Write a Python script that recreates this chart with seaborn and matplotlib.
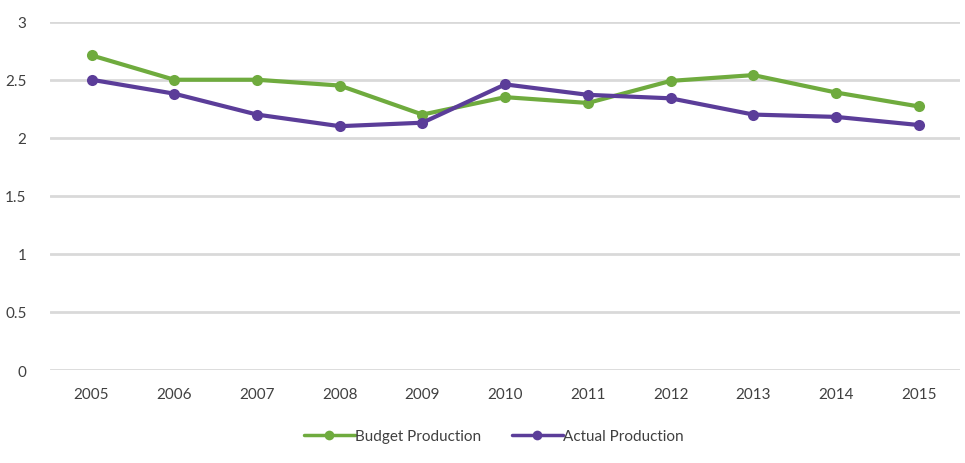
import matplotlib
matplotlib.use("Agg")
import matplotlib.pyplot as plt
import seaborn as sns
import pandas as pd

years = ["2005", "2006", "2007", "2008", "2009", "2010", "2011", "2012", "2013", "2014", "2015"]
budget = [2.71, 2.50, 2.50, 2.45, 2.20, 2.35, 2.30, 2.49, 2.54, 2.39, 2.27]
actual = [2.50, 2.38, 2.20, 2.10, 2.13, 2.46, 2.37, 2.34, 2.20, 2.18, 2.11]
series_names = ["Budget Production", "Actual Production"]
y_ticks = [0, 0.5, 1, 1.5, 2, 2.5, 3]
y_tick_labels = ["0", "0.5", "1", "1.5", "2", "2.5", "3"]

colors = {"Budget Production": "#6fab3e", "Actual Production": "#5b3d99"}

df = pd.DataFrame({
    "pos": list(range(len(years))) * 2,
    "value": budget + actual,
    "series": [series_names[0]] * len(years) + [series_names[1]] * len(years),
})

sns.set_style("white")
plt.rcParams["font.family"] = ["Lato", "DejaVu Sans"]

fig = plt.figure(figsize=(9.65, 4.64), dpi=100)
ax = fig.add_axes([0.052, 0.2004, 0.943, 0.7507])

for y in y_ticks:
    ax.axhline(y, color="#d9d9d9", lw=2.0, zorder=0)

sns.lineplot(data=df, x="pos", y="value", hue="series", palette=colors,
             marker="o", markersize=8, markeredgewidth=0, linewidth=3.0,
             legend=False, ax=ax, zorder=3)

ax.set_xlim(-0.5, len(years) - 0.5)
ax.set_ylim(0, 3)
ax.set_xticks(range(len(years)))
ax.set_xticklabels(years)
ax.set_yticks(y_ticks)
ax.set_yticklabels(y_tick_labels)
ax.tick_params(axis="both", length=0, labelsize=11, colors="#404040")
ax.tick_params(axis="x", pad=12)
ax.tick_params(axis="y", pad=17)
ax.set_xlabel("")
ax.set_ylabel("")
for s in ax.spines.values():
    s.set_visible(False)

handles = [plt.Line2D([], [], color=colors[n], lw=2.5, marker="o", markersize=7,
                      markeredgewidth=0) for n in series_names]
fig.legend(handles, series_names, loc="center", bbox_to_anchor=(0.512, 0.058),
           ncol=2, frameon=False, fontsize=11, handlelength=3.3,
           handletextpad=0.05, columnspacing=2.0, labelcolor="#404040")

fig.savefig("out.png", dpi=100, facecolor="white")
